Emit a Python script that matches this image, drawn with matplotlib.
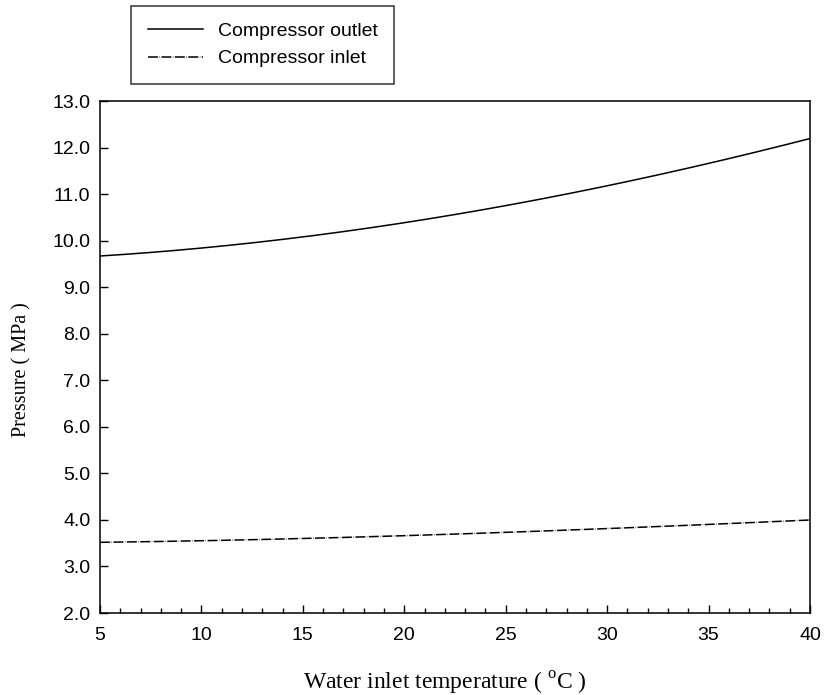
import matplotlib
matplotlib.use("Agg")
import matplotlib.pyplot as plt
from matplotlib.ticker import MultipleLocator, FormatStrFormatter
import numpy as np

plt.rcParams["mathtext.fontset"] = "custom"
plt.rcParams["mathtext.rm"] = "Liberation Serif"

# Water inlet temperature (°C) and compressor pressures (MPa)
temperature = [5, 10, 15, 20, 25, 30, 35, 40]
outlet_pressure = [9.68, 9.82, 10.08, 10.40, 10.76, 11.17, 11.65, 12.20]
inlet_pressure = [3.52, 3.55, 3.60, 3.66, 3.74, 3.81, 3.90, 4.00]

W, H = 826, 695
fig = plt.figure(figsize=(W / 100, H / 100), dpi=100)
ax = fig.add_axes([100 / W, 1 - 613 / H, 710 / W, 512 / H])

# smooth curves through the tabulated points
xs = np.linspace(temperature[0], temperature[-1], 200)
out_fit = np.polyval(np.polyfit(temperature, outlet_pressure, 3), xs)
in_fit = np.polyval(np.polyfit(temperature, inlet_pressure, 3), xs)

l1, = ax.plot(xs, out_fit, color="black", lw=1.1, label="Compressor outlet")
l2, = ax.plot(xs, in_fit, color="black", lw=1.1,
              linestyle=(0, (6.5, 1.0, 0.3, 1.0)), label="Compressor inlet")

ax.set_xlim(5, 40)
ax.set_ylim(2, 13)
ax.xaxis.set_major_locator(MultipleLocator(5))
ax.xaxis.set_minor_locator(MultipleLocator(1))
ax.yaxis.set_major_locator(MultipleLocator(1))
ax.yaxis.set_major_formatter(FormatStrFormatter("%.1f"))
ax.tick_params(which="both", direction="in", top=False, right=False,
               width=1, labelsize=14, colors="black")
ax.tick_params(which="major", length=6, pad=7)
ax.tick_params(axis="x", which="major", pad=10)
ax.tick_params(which="minor", length=3.5)
for lbl in ax.get_xticklabels() + ax.get_yticklabels():
    lbl.set_family("Liberation Sans")
for s in ax.spines.values():
    s.set_linewidth(1.1)

fig.text(445 / W, 1 - 683 / H, "Water inlet temperature ( $^{\\rm o}$C )",
         family="Liberation Serif", fontsize=17, ha="center", va="center")
fig.text(22 / W, 1 - 370 / H, "Pressure ( MPa )", family="Liberation Serif",
         fontsize=14.5, rotation=90, ha="center", va="center")

leg = fig.legend(handles=[l1, l2], loc="upper left",
                 bbox_to_anchor=(131 / W, 1 - 6 / H),
                 prop={"family": "Liberation Sans", "size": 14},
                 frameon=True, fancybox=False, edgecolor="black",
                 handlelength=2.85, handletextpad=0.75, borderpad=0.85,
                 labelspacing=0.5, borderaxespad=0)
leg.get_frame().set_linewidth(1.1)

fig.savefig("out.png", dpi=100)
